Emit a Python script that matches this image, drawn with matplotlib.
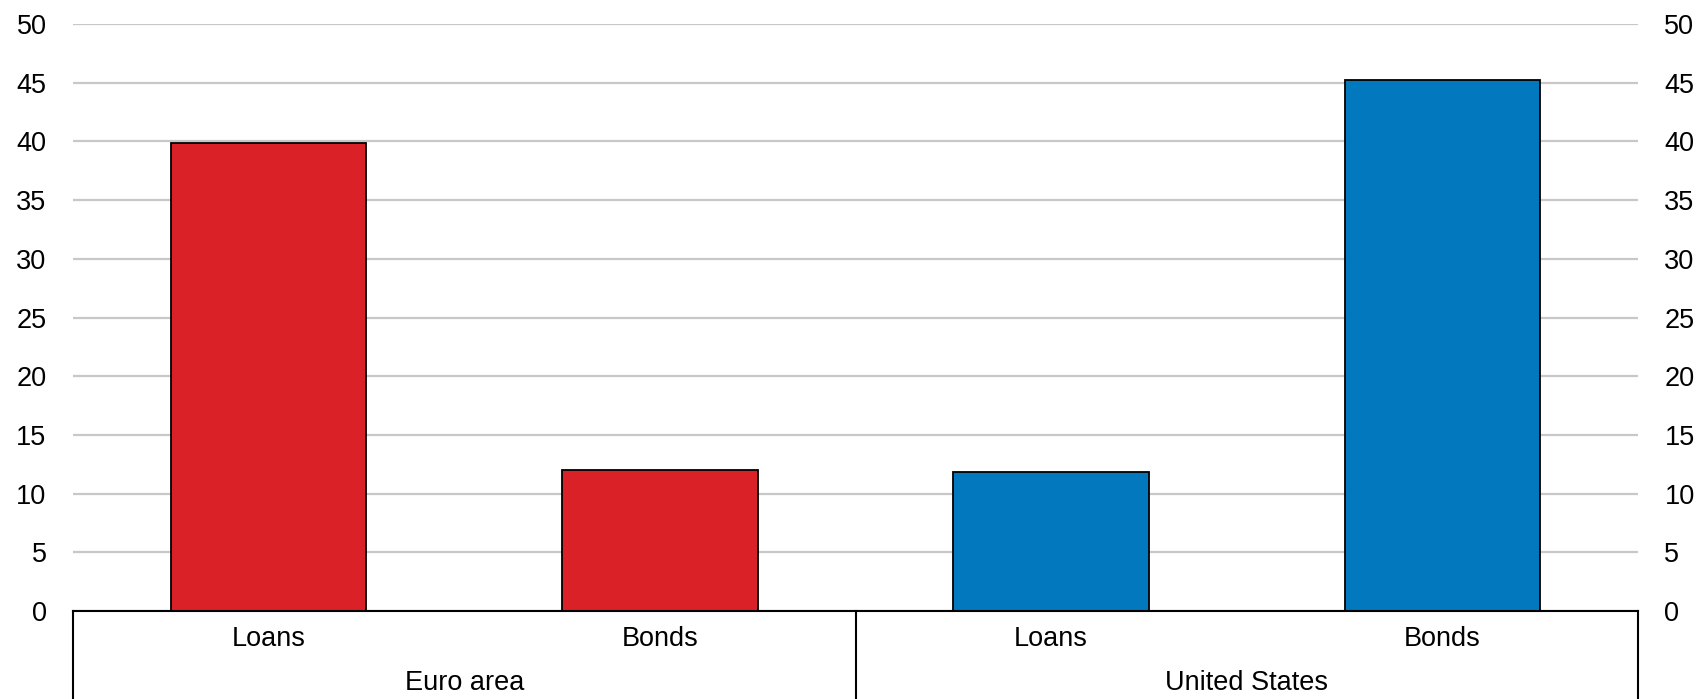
import matplotlib.pyplot as plt
import numpy as np

# Data:
regions = ['Euro area', 'United States']
instruments = ['Loans', 'Bonds', 'Loans', 'Bonds']
values = [39.9, 12.0, 11.8, 45.2]
bar_colors = ['#DA2128', '#DA2128', '#0279BF', '#0279BF']
y_ticks = [0, 5, 10, 15, 20, 25, 30, 35, 40, 45, 50]

plt.rcParams['font.family'] = ['Liberation Sans', 'DejaVu Sans']
font_size = 19.5

W, H = 1704, 699
fig = plt.figure(figsize=(W / 100, H / 100), dpi=100)

# Axes placement in pixels (left, right, bottom, top):
ax_left, ax_right, ax_bottom, ax_top = 73, 1638, 611, 24
ax = fig.add_axes([ax_left / W, 1 - ax_bottom / H,
                   (ax_right - ax_left) / W, (ax_bottom - ax_top) / H])

x = np.arange(len(values))
ax.bar(x, values, width=0.5, color=bar_colors, edgecolor='black',
       linewidth=1.3, zorder=3)

ax.set_xlim(-0.5, len(values) - 0.5)
ax.set_ylim(0, 50)
ax.set_yticks(y_ticks)
ax.yaxis.grid(True, color='#C8C8C8', linewidth=1.6, zorder=0)
ax.set_axisbelow(True)
for side in ['top', 'left', 'right']:
    ax.spines[side].set_visible(False)
ax.spines['bottom'].set_color('black')
ax.spines['bottom'].set_linewidth(1.5)
ax.spines['bottom'].set_zorder(4)

ax.tick_params(axis='y', length=0, pad=19, labelsize=font_size,
               labelleft=True, labelright=True)
ax.set_xticks(x)
ax.set_xticklabels(instruments)
ax.tick_params(axis='x', length=0, pad=11, labelsize=font_size)

# Group separators and labels under the axis:
trans = ax.get_xaxis_transform()
y_low = -(H - ax_bottom) / (ax_bottom - ax_top)
n_per = len(values) // len(regions)
for sep in np.arange(len(regions) + 1) * n_per - 0.5:
    ax.plot([sep, sep], [0, y_low], color='black', linewidth=1.5,
            transform=trans, clip_on=False)
y_group = -(683 - ax_bottom) / (ax_bottom - ax_top)
for i, name in enumerate(regions):
    ax.text(i * n_per + (n_per - 1) / 2, y_group, name, transform=trans,
            ha='center', va='center', fontsize=font_size)

fig.savefig('out.png', dpi=100)
